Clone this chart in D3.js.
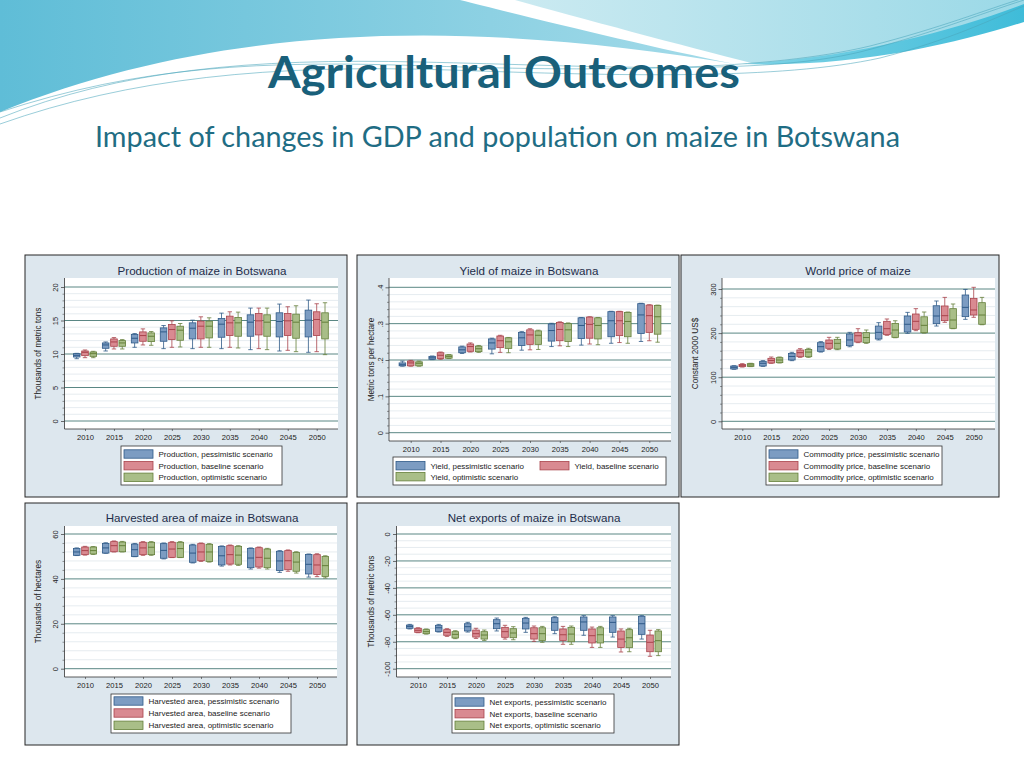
<!DOCTYPE html>
<html lang="en">
<head>
<meta charset="UTF-8">
<title>Agricultural Outcomes</title>
<script src="https://cdn.jsdelivr.net/npm/d3@7"></script>
<style>
  body { margin: 0; background: #fff; }
  svg { display: block; }
  .panel text { font-family: "Liberation Sans", Arial, Helvetica, sans-serif; }
  .slide-title { font-family: Lato, "Open Sans", sans-serif; }
</style>
</head>
<body>
<svg id="slide" width="1024" height="768"></svg>
<script>
var years = [2010, 2015, 2020, 2025, 2030, 2035, 2040, 2045, 2050];
var scenarios = ["pessimistic", "baseline", "optimistic"];

// each entry: [lower whisker, q1, median, q3, upper whisker]
var productionPess = [
  [9.3, 9.55, 9.8, 10.05, 10.1], [10.45, 10.85, 11.35, 11.65, 11.8], [11.0, 11.65, 12.35, 12.9, 13.05],
  [10.8, 11.9, 13.3, 13.9, 14.25], [10.8, 12.25, 13.85, 14.65, 15.05], [10.8, 12.5, 14.45, 15.3, 16.1],
  [10.65, 12.65, 14.75, 15.85, 16.85], [10.45, 12.55, 14.85, 16.15, 17.45], [10.25, 12.55, 15.05, 16.55, 18.05]
];
var productionBase = [
  [9.45, 9.75, 10.25, 10.45, 10.6], [10.75, 11.15, 11.8, 12.25, 12.45], [11.35, 11.9, 12.75, 13.3, 13.75],
  [11.0, 12.15, 13.65, 14.4, 14.95], [11.0, 12.25, 14.15, 14.9, 15.55], [11.0, 12.75, 14.65, 15.65, 16.3],
  [10.8, 12.85, 14.95, 16.05, 16.85], [10.55, 12.75, 14.95, 16.05, 17.05], [10.35, 12.75, 15.15, 16.3, 17.5]
];
var productionOpt = [
  [9.45, 9.65, 10.05, 10.3, 10.4], [10.75, 11.15, 11.65, 12.0, 12.15], [11.3, 11.85, 12.65, 13.15, 13.35],
  [11.05, 12.05, 13.55, 14.15, 14.55], [11.0, 12.4, 14.15, 14.9, 15.4], [10.9, 12.65, 14.65, 15.45, 16.25],
  [10.65, 12.65, 14.75, 15.85, 16.85], [10.35, 12.35, 14.75, 15.95, 17.2], [9.9, 12.25, 14.75, 16.15, 17.65]
];

var yieldPess = [
  [.183, .184, .187, .192, .197], [.201, .202, .206, .210, .211], [.218, .220, .228, .236, .238],
  [.217, .230, .247, .258, .260], [.227, .240, .261, .276, .278], [.237, .252, .281, .299, .301],
  [.241, .259, .295, .316, .317], [.246, .264, .308, .333, .334], [.251, .273, .324, .355, .356]
];
var yieldBase = [
  [.183, .184, .192, .197, .199], [.202, .204, .213, .220, .222], [.222, .224, .237, .244, .247],
  [.221, .234, .253, .266, .268], [.228, .243, .269, .283, .286], [.239, .253, .284, .303, .305],
  [.244, .260, .298, .318, .319], [.248, .267, .308, .333, .334], [.253, .276, .322, .351, .352]
];
var yieldOpt = [
  [.183, .184, .191, .195, .197], [.204, .205, .210, .214, .215], [.221, .223, .231, .238, .240],
  [.220, .232, .250, .261, .262], [.229, .243, .268, .280, .282], [.237, .251, .283, .300, .302],
  [.242, .258, .295, .316, .317], [.246, .264, .306, .331, .332], [.249, .271, .319, .350, .351]
];

var pricePess = [
  [118, 118.6, 122.4, 125.4, 126], [124.6, 125.4, 131.5, 136, 137.5], [137.5, 139, 147, 154, 156.4],
  [157, 158.7, 169.2, 178.3, 180.6], [169, 171.5, 184.4, 198, 201.7], [184.4, 186.6, 201.7, 216, 223.7],
  [199.5, 202.5, 220, 238.8, 247], [216, 221.4, 238.8, 262, 272.8], [231.2, 237.3, 258.4, 286.4, 299]
];
var priceBase = [
  [123, 124, 127, 129, 130.7], [131.5, 132.2, 138, 142.8, 145.8], [145, 146.5, 155.6, 161.7, 164.7],
  [163, 165.5, 176.8, 184.4, 190.4], [178.3, 179.8, 194, 201, 210], [195, 196.5, 210, 226.7, 232],
  [205.5, 208.5, 226.7, 243.3, 255.4], [224.4, 228.2, 239.5, 261.5, 281], [235.8, 241, 252.4, 278.8, 303.8]
];
var priceOpt = [
  [124, 124.6, 127.7, 130.7, 131.5], [132.2, 133, 139, 144.3, 145.8], [145, 146.5, 157, 163, 165.5],
  [162.4, 164, 176.8, 185.9, 190.4], [176.8, 178.3, 190, 201, 207], [189.5, 190.4, 207, 222, 228],
  [200, 201, 217.6, 237, 247.8], [210, 210.8, 229.7, 255.4, 266], [219, 220, 241, 269, 281]
];

var areaPess = [
  [50.4, 50.5, 52, 53.5, 53.8], [51.4, 51.5, 53.8, 55.8, 56.1], [49.9, 50, 53, 55.5, 55.8],
  [48.9, 49.2, 52.7, 55.7, 56], [47.1, 47.4, 51.5, 55.1, 55.4], [45.7, 46.2, 50.3, 54.4, 54.7],
  [44.4, 45, 49.3, 53.5, 53.8], [42.9, 43.7, 48, 52.3, 52.6], [40.8, 42.2, 46.5, 50.9, 51.1]
];
var areaBase = [
  [50.6, 50.8, 52.6, 54.2, 54.5], [52, 52.1, 54.8, 56.6, 56.9], [50.5, 50.8, 53.8, 56.3, 56.6],
  [49.5, 49.6, 53.3, 56.3, 56.6], [47.8, 48.1, 52, 55.7, 56], [46.2, 46.6, 50.8, 54.8, 55.1],
  [44.8, 45.3, 49.6, 53.9, 54.2], [43.4, 44.1, 48.1, 52.6, 52.9], [41, 42, 46.2, 50.8, 51.2]
];
var areaOpt = [
  [50.9, 51.1, 52.6, 54.2, 54.4], [52, 52.1, 54.8, 56.4, 56.7], [50.5, 50.8, 54.1, 56.3, 56.6],
  [49.5, 49.6, 53.5, 56.3, 56.6], [47.5, 47.8, 52, 55.4, 55.7], [46, 46.5, 50.6, 54.5, 54.8],
  [44.4, 45, 49.2, 53.3, 53.6], [42.6, 43.4, 47.5, 51.8, 52.1], [40.4, 41.1, 45.9, 50, 50.3]
];

var exportsPess = [
  [-70.5, -70.0, -68.6, -67.6, -67.1], [-72.8, -72.3, -69.6, -67.8, -67.1], [-72.8, -72.0, -68.8, -66.6, -65.6],
  [-72.0, -70.3, -66.6, -63.6, -62.4], [-73.0, -70.5, -66.1, -62.6, -61.9], [-74.0, -71.5, -65.6, -62.1, -61.4],
  [-75.2, -71.5, -65.3, -61.6, -60.6], [-76.5, -73.0, -65.6, -61.6, -60.6], [-78.0, -74.5, -66.6, -61.1, -60.6]
];
var exportsBase = [
  [-73.3, -73.0, -71.5, -70.0, -69.6], [-76.0, -75.2, -73.0, -71.0, -70.3], [-77.5, -76.5, -74.0, -71.3, -70.0],
  [-78.0, -76.7, -72.5, -69.3, -67.8], [-79.7, -78.0, -74.0, -69.6, -68.3], [-81.9, -79.0, -74.8, -70.5, -68.6],
  [-84.2, -80.9, -75.5, -70.5, -69.1], [-87.6, -84.2, -78.0, -72.0, -70.5], [-90.8, -87.4, -80.4, -75.0, -71.5]
];
var exportsOpt = [
  [-74.3, -74.0, -72.5, -71.0, -70.5], [-77.7, -77.2, -74.5, -72.5, -71.8], [-79.0, -78.0, -75.0, -72.5, -71.3],
  [-78.5, -77.0, -73.5, -70.3, -68.8], [-80.4, -79.0, -74.0, -69.6, -68.6], [-81.9, -80.0, -74.3, -69.3, -68.3],
  [-84.2, -80.9, -74.8, -69.6, -68.6], [-87.4, -84.4, -77.0, -71.0, -70.0], [-90.3, -87.4, -79.2, -72.0, -71.0]
];

var productionTicks = [0, 5, 10, 15, 20];
var yieldTicks = [0, .1, .2, .3, .4];
var priceTicks = [0, 100, 200, 300];
var areaTicks = [0, 20, 40, 60];
var exportsTicks = [-100, -80, -60, -40, -20, 0];

var boxFill = { pessimistic: "#7c9cc2", baseline: "#d98a91", optimistic: "#a9be88" };
var boxLine = { pessimistic: "#2f5a88", baseline: "#a8434b", optimistic: "#647f3a" };

var svg = d3.select("#slide");
var defs = svg.append("defs");

function gradient(id, c0, c1) {
  var gr = defs.append("linearGradient").attr("id", id).attr("x1", 0).attr("y1", 0).attr("x2", 1).attr("y2", 0);
  gr.append("stop").attr("offset", "0%").attr("stop-color", c0);
  gr.append("stop").attr("offset", "100%").attr("stop-color", c1);
}
gradient("skyLeft", "#5fbdd7", "#a4dbe9");
gradient("skyRight", "#cbeaf1", "#9bd9e7");
gradient("band", "#7fd3e6", "#3fbcd9");

// slide background and top swooshes
svg.append("rect").attr("width", 1024).attr("height", 768).attr("fill", "#ffffff");
svg.append("path").attr("d", "M0,0 H460 C520,15 640,45 735,64 C520,28 250,10 0,112 Z").attr("fill", "url(#skyLeft)");
svg.append("path").attr("d", "M515,0 H1024 V6 C960,30 860,58 755,64 C680,45 580,18 515,0 Z").attr("fill", "url(#skyRight)");
svg.append("path").attr("d", "M1024,4 C950,32 850,58 742,64 C860,68 960,42 1024,22 Z").attr("fill", "url(#band)");
[
  "M0,118 C120,70 250,58 420,62 C600,66 760,76 860,52 C930,34 980,14 1024,0",
  "M0,112 C140,66 260,60 430,66 C610,72 770,70 870,46 C940,28 985,10 1024,-2",
  "M0,124 C130,78 270,64 450,70 C620,76 780,80 880,58 C950,40 990,20 1024,6"
].forEach(function (d) {
  svg.append("path").attr("d", d).attr("fill", "none").attr("stroke", "#4aa6bb").attr("stroke-width", 0.7).attr("opacity", 0.8);
});

svg.append("text").attr("class", "slide-title")
  .attr("x", 268).attr("y", 88)
  .attr("textLength", 472).attr("lengthAdjust", "spacingAndGlyphs")
  .style("font-size", "44px").style("font-weight", "bold").attr("fill", "#19607a")
  .text("Agricultural Outcomes");
svg.append("text").attr("class", "slide-title")
  .attr("x", 95).attr("y", 147)
  .attr("textLength", 805).attr("lengthAdjust", "spacingAndGlyphs")
  .style("font-size", "28px").attr("fill", "#1f6d84")
  .text("Impact of changes in GDP and population on maize in Botswana");

function fmtPlain(d) { return String(d); }
function fmtDot(d) { return d === 0 ? "0" : String(d).replace("0.", "."); }

var panels = [
  {
    title: "Production of maize in Botswana", yLabel: "Thousands of metric tons", prefix: "Production",
    data: [productionPess, productionBase, productionOpt], ticks: productionTicks, minorStep: 1, format: fmtPlain,
    frame: { x: 25, y: 255, w: 322, h: 242 }, plot: { x0: 64.5, y0: 278, x1: 338, y1: 429 },
    yRange: [421, 287], xRange: [85, 316.7], titleX: 202, titleY: 274.5, yLabelX: 40.5,
    legend: { box: [121, 446, 161, 39], items: [[124, 454], [124, 465.7], [124, 477.3]] }
  },
  {
    title: "Yield of maize in Botswana", yLabel: "Metric tons per hectare", prefix: "Yield",
    data: [yieldPess, yieldBase, yieldOpt], ticks: yieldTicks, minorStep: .02, format: fmtDot,
    frame: { x: 357, y: 255, w: 322, h: 242 }, plot: { x0: 389, y0: 278, x1: 671, y1: 441 },
    yRange: [432.7, 287.3], xRange: [410.7, 649.3], titleX: 529, titleY: 274.5, yLabelX: 373.5,
    legend: { box: [393, 457, 273, 28], items: [[396, 465.7], [540, 465.7], [396, 476.7]] }
  },
  {
    title: "World price of maize", yLabel: "Constant 2000 US$", prefix: "Commodity price",
    data: [pricePess, priceBase, priceOpt], ticks: priceTicks, minorStep: 20, format: fmtPlain,
    frame: { x: 681, y: 255, w: 318, h: 242 }, plot: { x0: 722, y0: 278, x1: 995, y1: 429 },
    yRange: [421.3, 289], xRange: [742.3, 973.7], titleX: 858, titleY: 274.5, yLabelX: 697.5,
    legend: { box: [766, 446, 176, 39], items: [[769, 454], [769, 465.7], [769, 477.3]] }
  },
  {
    title: "Harvested area of maize in Botswana", yLabel: "Thousands of hectares", prefix: "Harvested area",
    data: [areaPess, areaBase, areaOpt], ticks: areaTicks, minorStep: 4, format: fmtPlain,
    frame: { x: 25, y: 503, w: 322, h: 242 }, plot: { x0: 64.5, y0: 526, x1: 337, y1: 677 },
    yRange: [668.7, 534], xRange: [85, 317], titleX: 202, titleY: 522, yLabelX: 41,
    legend: { box: [111, 694, 180, 39], items: [[114, 701], [114, 713], [114, 725.3]] }
  },
  {
    title: "Net exports of maize in Botswana", yLabel: "Thousands of metric tons", prefix: "Net exports",
    data: [exportsPess, exportsBase, exportsOpt], ticks: exportsTicks, minorStep: 5, format: fmtPlain,
    frame: { x: 357, y: 503, w: 322, h: 242 }, plot: { x0: 396.5, y0: 526, x1: 671, y1: 677 },
    yRange: [668.7, 534], xRange: [418, 650], titleX: 534, titleY: 522, yLabelX: 373.5,
    legend: { box: [452, 694, 162, 39], items: [[455, 702], [455, 713.7], [455, 725.3]] }
  }
];

function drawPanel(p) {
  var g = svg.append("g").attr("class", "panel");
  var f = p.frame, pl = p.plot;

  g.append("rect").attr("x", f.x).attr("y", f.y).attr("width", f.w).attr("height", f.h)
    .attr("fill", "#dde7ee").attr("stroke", "#262626").attr("stroke-width", 1);
  g.append("rect").attr("x", pl.x0).attr("y", pl.y0).attr("width", pl.x1 - pl.x0).attr("height", pl.y1 - pl.y0)
    .attr("fill", "#ffffff");

  var y = d3.scaleLinear().domain(d3.extent(p.ticks)).range(p.yRange);
  var x = d3.scalePoint().domain(years).range(p.xRange);
  var off = d3.scalePoint().domain(scenarios).range([-8.3, 8.3]);

  var lo = y.domain()[0], hi = y.domain()[1];
  var minor = d3.range(lo, hi + p.minorStep / 2, p.minorStep).filter(function (v) {
    return !p.ticks.some(function (t) { return Math.abs(t - v) < p.minorStep / 10; });
  });

  // grid
  g.append("g").selectAll("line").data(minor).join("line")
    .attr("x1", pl.x0).attr("x2", pl.x1).attr("y1", y).attr("y2", y)
    .attr("stroke", "#e0e7ec").attr("stroke-width", 0.8);
  g.append("g").selectAll("line").data(p.ticks).join("line")
    .attr("x1", pl.x0).attr("x2", pl.x1).attr("y1", y).attr("y2", y)
    .attr("stroke", "#5a8784").attr("stroke-width", 1);

  // y axis
  var ya = g.append("g").attr("transform", "translate(" + pl.x0 + ",0)")
    .call(d3.axisLeft(y).tickValues(p.ticks).tickSize(3.5).tickSizeOuter(0).tickFormat(p.format));
  ya.select(".domain").remove();
  ya.selectAll("line").attr("stroke", "#333").attr("stroke-width", 0.7);
  ya.selectAll("text")
    .attr("transform", "rotate(-90)").attr("x", 0).attr("y", -6.5).attr("dy", 0)
    .attr("text-anchor", "middle").style("font-size", "7.5px").attr("fill", "#222");
  var ym = g.append("g").attr("transform", "translate(" + pl.x0 + ",0)")
    .call(d3.axisLeft(y).tickValues(minor).tickSize(2).tickSizeOuter(0).tickFormat(""));
  ym.select(".domain").remove();
  ym.selectAll("line").attr("stroke", "#555").attr("stroke-width", 0.6);
  g.append("line").attr("x1", pl.x0).attr("x2", pl.x0).attr("y1", pl.y0).attr("y2", pl.y1)
    .attr("stroke", "#333").attr("stroke-width", 0.8);

  // x axis
  var xa = g.append("g").attr("transform", "translate(0," + pl.y1 + ")")
    .call(d3.axisBottom(x).tickSize(2).tickPadding(3.5).tickSizeOuter(0));
  xa.select(".domain").remove();
  xa.selectAll("line").attr("stroke", "#333").attr("stroke-width", 0.6);
  xa.selectAll("text").style("font-size", "7.6px").attr("fill", "#222");
  g.append("line").attr("x1", pl.x0).attr("x2", pl.x1).attr("y1", pl.y1).attr("y2", pl.y1)
    .attr("stroke", "#333").attr("stroke-width", 0.8);

  // boxes
  var bw = 6.6, cw = 4.4;
  scenarios.forEach(function (s, k) {
    var rows = p.data[k].map(function (v, i) { return { year: years[i], v: v }; });
    var bx = g.append("g").selectAll("g").data(rows).join("g")
      .attr("transform", function (d) { return "translate(" + (x(d.year) + off(s)) + ",0)"; })
      .attr("stroke", boxLine[s]).attr("stroke-width", 0.8);
    bx.append("line").attr("x1", 0).attr("x2", 0)
      .attr("y1", function (d) { return y(d.v[4]); }).attr("y2", function (d) { return y(d.v[3]); });
    bx.append("line").attr("x1", 0).attr("x2", 0)
      .attr("y1", function (d) { return y(d.v[1]); }).attr("y2", function (d) { return y(d.v[0]); });
    bx.append("line").attr("x1", -cw / 2).attr("x2", cw / 2)
      .attr("y1", function (d) { return y(d.v[4]); }).attr("y2", function (d) { return y(d.v[4]); });
    bx.append("line").attr("x1", -cw / 2).attr("x2", cw / 2)
      .attr("y1", function (d) { return y(d.v[0]); }).attr("y2", function (d) { return y(d.v[0]); });
    bx.append("rect").attr("x", -bw / 2).attr("width", bw)
      .attr("y", function (d) { return y(d.v[3]); })
      .attr("height", function (d) { return Math.max(0.5, y(d.v[1]) - y(d.v[3])); })
      .attr("fill", boxFill[s]);
    bx.append("line").attr("x1", -bw / 2).attr("x2", bw / 2)
      .attr("y1", function (d) { return y(d.v[2]); }).attr("y2", function (d) { return y(d.v[2]); })
      .attr("stroke-width", 1);
  });

  // titles
  g.append("text").attr("x", p.titleX).attr("y", p.titleY).attr("text-anchor", "middle")
    .style("font-size", "11.6px").attr("fill", "#1e2d4a").text(p.title);
  g.append("text")
    .attr("transform", "translate(" + p.yLabelX + "," + ((pl.y0 + pl.y1) / 2) + ") rotate(-90)")
    .attr("text-anchor", "middle").style("font-size", "8.2px").attr("fill", "#222").text(p.yLabel);

  // legend
  var lb = p.legend.box;
  g.append("rect").attr("x", lb[0]).attr("y", lb[1]).attr("width", lb[2]).attr("height", lb[3])
    .attr("fill", "#ffffff").attr("stroke", "#333").attr("stroke-width", 0.8);
  scenarios.forEach(function (s, k) {
    var it = p.legend.items[k];
    g.append("rect").attr("x", it[0]).attr("y", it[1] - 4.2).attr("width", 29).attr("height", 8.4)
      .attr("fill", boxFill[s]).attr("stroke", boxLine[s]).attr("stroke-width", 0.8);
    g.append("text").attr("x", it[0] + 34.5).attr("y", it[1] + 2.8)
      .style("font-size", "8px").attr("fill", "#222")
      .text(p.prefix + ", " + s + " scenario");
  });
}

panels.forEach(drawPanel);
</script>
</body>
</html>
